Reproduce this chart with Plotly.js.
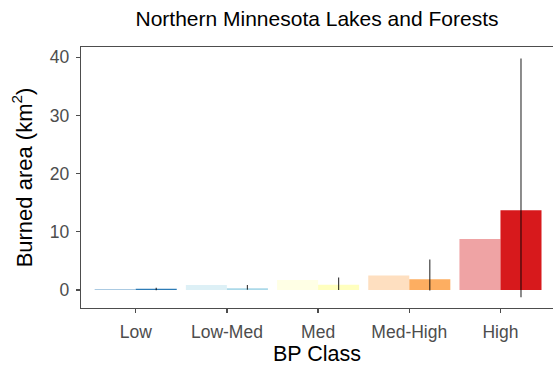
<!DOCTYPE html>
<html>
<head>
<meta charset="utf-8">
<script src="https://cdn.plot.ly/plotly-3.0.1.min.js"></script>
<style>
  html, body { margin: 0; padding: 0; background: #ffffff; }
  #chart { width: 553px; height: 369px; }
</style>
</head>
<body>
<div id="chart"></div>
<script>
// Data
var categories = ["Low", "Low-Med", "Med", "Med-High", "High"];
var lightValues = [0.15, 0.85, 1.7, 2.5, 8.75];
var solidValues = [0.22, 0.3, 0.9, 1.83, 13.7];
var errUpper = [0.4, 0.86, 2.15, 5.25, 39.8];
var errLower = [-0.05, 0.05, 0.0, -0.1, -1.26];
var classColors = ["#2c7bb6", "#abd9e9", "#ffffbf", "#fdae61", "#d7191c"];
var yTicks = [0, 10, 20, 30, 40];

function hexToRgba(hex, a) {
  var r = parseInt(hex.slice(1, 3), 16), g = parseInt(hex.slice(3, 5), 16), b = parseInt(hex.slice(5, 7), 16);
  return "rgba(" + r + "," + g + "," + b + "," + a + ")";
}

var lightTrace = {
  type: "bar",
  x: categories,
  y: lightValues,
  marker: { color: classColors.map(function (c) { return hexToRgba(c, 0.4); }), line: { width: 0 } },
  showlegend: false,
  hoverinfo: "skip"
};

var solidTrace = {
  type: "bar",
  x: categories,
  y: solidValues,
  marker: { color: classColors, line: { width: 0 } },
  error_y: {
    type: "data",
    symmetric: false,
    array: errUpper.map(function (u, i) { return u - solidValues[i]; }),
    arrayminus: errLower.map(function (l, i) { return solidValues[i] - l; }),
    width: 0,
    thickness: 1.2,
    color: "rgba(0,0,0,0.75)"
  },
  showlegend: false,
  hoverinfo: "skip"
};

var layout = {
  width: 553,
  height: 369,
  margin: { l: 81, r: 0, t: 47, b: 61 },
  paper_bgcolor: "#ffffff",
  plot_bgcolor: "#ffffff",
  font: { family: "Liberation Sans, Arial, sans-serif", color: "#000000" },
  barmode: "group",
  bargap: 0.1,
  bargroupgap: 0,
  title: {
    text: "Northern Minnesota Lakes and Forests",
    font: { size: 21, color: "#000000" },
    x: 0.5, xref: "paper", xanchor: "center",
    y: 1 - 19 / 369, yref: "container", yanchor: "middle"
  },
  xaxis: {
    type: "category",
    range: [-0.6, 4.576],
    showline: true, linecolor: "#4d4d4d", linewidth: 1.2, mirror: true,
    showgrid: false, zeroline: false,
    ticks: "outside", ticklen: 4, tickwidth: 1.2, tickcolor: "#4d4d4d",
    tickfont: { size: 17.5, color: "#4d4d4d" },
    ticklabelstandoff: 4,
    title: { text: "BP Class", font: { size: 21.5, color: "#000000" }, standoff: 4 },
    fixedrange: true
  },
  yaxis: {
    range: [-3.1, 41.77],
    tickvals: yTicks,
    ticktext: yTicks.map(String),
    showline: true, linecolor: "#4d4d4d", linewidth: 1.2,
    showgrid: false, zeroline: false,
    ticks: "outside", ticklen: 4, tickwidth: 1.2, tickcolor: "#4d4d4d",
    tickfont: { size: 17.5, color: "#4d4d4d" },
    ticklabelstandoff: 3,
    title: { text: "Burned area (km<sup>2</sup>)", font: { size: 22, color: "#000000" }, standoff: 11 },
    fixedrange: true
  }
};

Plotly.newPlot("chart", [lightTrace, solidTrace], layout, { staticPlot: true, displayModeBar: false });
</script>
</body>
</html>
